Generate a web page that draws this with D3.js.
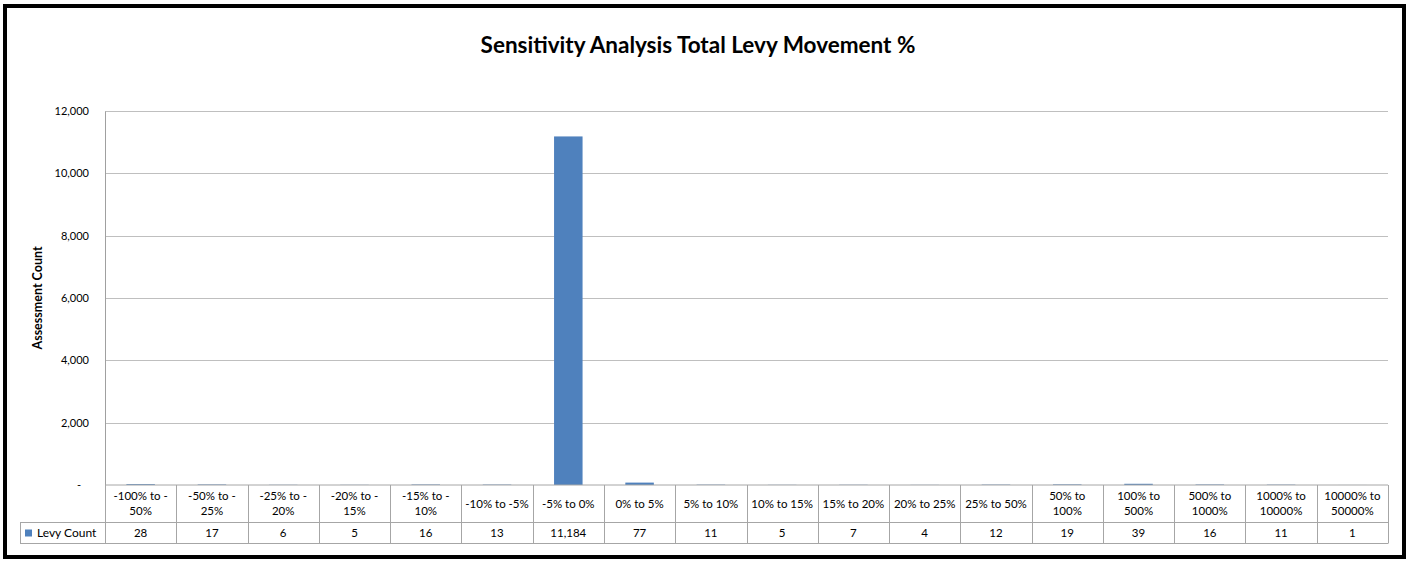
<!DOCTYPE html>
<html>
<head>
<meta charset="utf-8">
<script src="https://cdn.jsdelivr.net/npm/d3@7"></script>
<style>
  html, body { margin: 0; padding: 0; background: #fff; }
  svg { display: block; }
  text { font-family: Lato, "Open Sans", sans-serif; fill: #000; }
</style>
</head>
<body>
<svg id="chart" width="1411" height="561"></svg>
<script>
const title = "Sensitivity Analysis Total Levy Movement %";
const yAxisTitle = "Assessment Count";
const seriesName = "Levy Count";
const categories = ["-100% to -50%", "-50% to -25%", "-25% to -20%", "-20% to -15%", "-15% to -10%",
  "-10% to -5%", "-5% to 0%", "0% to 5%", "5% to 10%", "10% to 15%", "15% to 20%", "20% to 25%",
  "25% to 50%", "50% to 100%", "100% to 500%", "500% to 1000%", "1000% to 10000%", "10000% to 50000%"];
const categoryLines = [["-100% to -", "50%"], ["-50% to -", "25%"], ["-25% to -", "20%"], ["-20% to -", "15%"],
  ["-15% to -", "10%"], ["-10% to -5%"], ["-5% to 0%"], ["0% to 5%"], ["5% to 10%"], ["10% to 15%"],
  ["15% to 20%"], ["20% to 25%"], ["25% to 50%"], ["50% to", "100%"], ["100% to", "500%"],
  ["500% to", "1000%"], ["1000% to", "10000%"], ["10000% to", "50000%"]];
const levyCount = [28, 17, 6, 5, 16, 13, 11184, 77, 11, 5, 7, 4, 12, 19, 39, 16, 11, 1];
const yTicks = [0, 2000, 4000, 6000, 8000, 10000, 12000];

const svg = d3.select("#chart");
const plotLeft = 105, plotRight = 1388, plotTop = 111, plotBottom = 485;
const tableLeft = 20, row1 = 485, row2 = 522.5, row3 = 543.5;
const gridColor = "#bfbfbf", tableColor = "#a6a6a6", barColor = "#4f81bd";
const fs = 11.5;

// outer frame
svg.append("rect").attr("x", 5).attr("y", 6).attr("width", 1399).attr("height", 551)
  .attr("fill", "#fff").attr("stroke", "#000").attr("stroke-width", 4);

const x = d3.scaleBand().domain(categories).range([plotLeft, plotRight]).paddingInner(0).paddingOuter(0);
const y = d3.scaleLinear().domain([0, 12000]).range([plotBottom, plotTop]);
const fmt = d3.format(",");

// title
svg.append("text").attr("x", 698).attr("y", 53).attr("text-anchor", "middle")
  .attr("font-size", 22.5).attr("font-weight", "bold").text(title);

// gridlines
svg.append("g").selectAll("line").data(yTicks.filter(d => d > 0)).join("line")
  .attr("x1", plotLeft).attr("x2", plotRight)
  .attr("y1", d => Math.round(y(d)) + 0.5).attr("y2", d => Math.round(y(d)) + 0.5)
  .attr("stroke", gridColor).attr("stroke-width", 1);

// y axis
const yAxis = d3.axisLeft(y).tickValues(yTicks).tickSize(0).tickPadding(16)
  .tickFormat(d => d === 0 ? "-" : fmt(d));
const gy = svg.append("g").attr("transform", `translate(${plotLeft},0)`).call(yAxis);
gy.select(".domain").attr("stroke", "#a0a0a0");
gy.selectAll("text").attr("font-size", 11).attr("fill", "#000")
  .attr("font-family", "Lato, sans-serif");
gy.selectAll(".tick").filter(d => d === 0).select("text").attr("dx", -8);

// y axis title
svg.append("text").attr("transform", `translate(42,${(plotTop + plotBottom) / 2}) rotate(-90)`)
  .attr("text-anchor", "middle").attr("font-size", 12.5).attr("font-weight", "bold").text(yAxisTitle);

// bars
const bw = x.bandwidth() * 0.4;
svg.append("g").selectAll("rect").data(levyCount).join("rect")
  .attr("x", (d, i) => x(categories[i]) + (x.bandwidth() - bw) / 2)
  .attr("width", bw)
  .attr("y", d => y(d))
  .attr("height", d => plotBottom - y(d))
  .attr("fill", barColor);

// data table
const t = svg.append("g");
const hl = (x1, x2, yy) => t.append("line").attr("x1", x1).attr("x2", x2).attr("y1", yy).attr("y2", yy)
  .attr("stroke", tableColor).attr("stroke-width", 1);
hl(plotLeft, plotRight, row1);
hl(tableLeft, plotRight, row2);
hl(tableLeft, plotRight, row3);
const edges = categories.map(c => x(c)).concat([plotRight]);
t.selectAll("line.v").data(edges).join("line").attr("class", "v")
  .attr("x1", d => Math.round(d) + 0.5).attr("x2", d => Math.round(d) + 0.5)
  .attr("y1", row1).attr("y2", row3).attr("stroke", tableColor);
t.append("line").attr("x1", tableLeft + 0.5).attr("x2", tableLeft + 0.5).attr("y1", row2).attr("y2", row3)
  .attr("stroke", tableColor);

// header labels
categories.forEach((c, i) => {
  const lines = categoryLines[i];
  const cx = x(c) + x.bandwidth() / 2;
  const cy = (row1 + row2) / 2;
  const lh = 15;
  const txt = t.append("text").attr("text-anchor", "middle").attr("font-size", fs);
  lines.forEach((ln, k) => {
    txt.append("tspan").attr("x", cx)
      .attr("y", cy + (k - (lines.length - 1) / 2) * lh + 4).text(ln);
  });
});

// value row
t.selectAll("text.val").data(levyCount).join("text").attr("class", "val")
  .attr("x", (d, i) => x(categories[i]) + x.bandwidth() / 2)
  .attr("y", (row2 + row3) / 2 + 4).attr("text-anchor", "middle").attr("font-size", fs)
  .text(d => fmt(d));

// legend key in table
t.append("rect").attr("x", 25).attr("y", (row2 + row3) / 2 - 3.5).attr("width", 7).attr("height", 7)
  .attr("fill", barColor);
t.append("text").attr("x", 37).attr("y", (row2 + row3) / 2 + 4).attr("font-size", 12).text(seriesName);
</script>
</body>
</html>
